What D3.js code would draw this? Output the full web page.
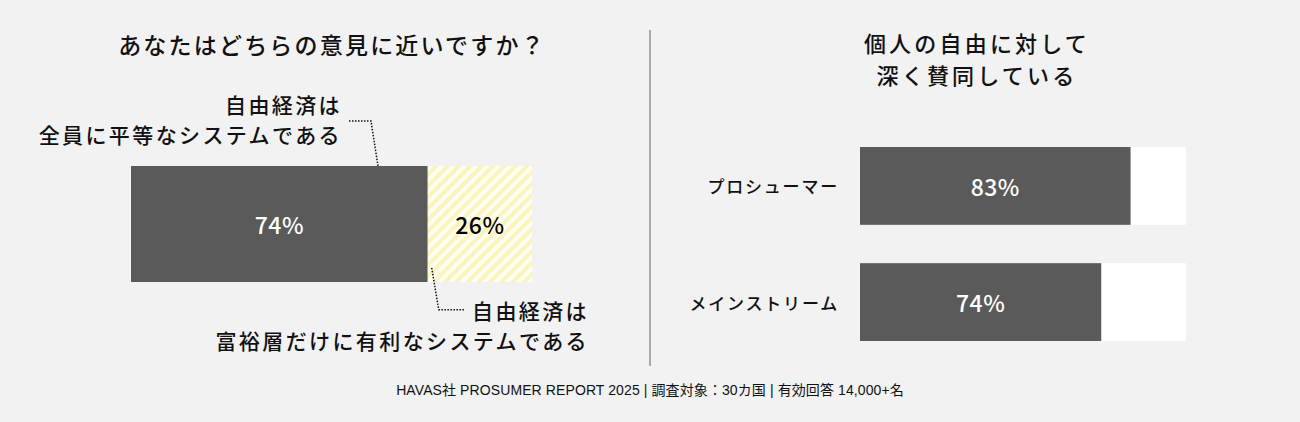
<!DOCTYPE html>
<html>
<head>
<meta charset="utf-8">
<script src="https://cdn.jsdelivr.net/npm/d3@7"></script>
<style>
  html, body { margin:0; padding:0; background:#f2f2f2; }
  svg { display:block; }
  .jp { font-family:"Noto Sans CJK JP","Noto Sans",sans-serif; fill:#111; font-weight:500; }
  .foot { font-family:"Liberation Sans","Noto Sans CJK JP",sans-serif; fill:#111; }
</style>
</head>
<body>
<svg id="chart" width="1300" height="422"></svg>
<script>
// ---- data ----
const leftTitle = "あなたはどちらの意見に近いですか？";
const splitValues = [74, 26];
const splitTop = ["自由経済は", "全員に平等なシステムである"];
const splitBottom = ["自由経済は", "富裕層だけに有利なシステムである"];

const rightTitle = ["個人の自由に対して", "深く賛同している"];
const groups = ["プロシューマー", "メインストリーム"];
const agreeValues = [83, 74];

const footerText = "HAVAS社 PROSUMER REPORT 2025 | 調査対象：30カ国 | 有効回答 14,000+名";

const dark = "#5a5a5a";

var svg = d3.select('#chart');
svg.append('rect').attr('width', 1300).attr('height', 422).attr('fill', '#f2f2f2');

// hatch for the minority share
var defs = svg.append('defs');
var pat = defs.append('pattern')
  .attr('id', 'hatch')
  .attr('patternUnits', 'userSpaceOnUse')
  .attr('width', 8).attr('height', 8)
  .attr('patternTransform', 'rotate(45)');
pat.append('rect').attr('width', 8).attr('height', 8).attr('fill', '#fffef2');
pat.append('rect').attr('width', 4).attr('height', 8).attr('fill', '#fbf4bd');

// one text per line, lines spread just enough for the cjk line box (~1.45em)
function multiline(x, cy, lines, anchor, size, spacing){
  var lh = Math.ceil(size * 1.45 * 10) / 10;
  var y0 = cy - lh * (lines.length - 1) / 2;
  svg.selectAll(null)
    .data(lines)
    .enter().append('text')
    .attr('class', 'jp')
    .attr('x', x).attr('y', (d, i) => y0 + i * lh)
    .attr('text-anchor', anchor).attr('dominant-baseline', 'central')
    .style('font-size', size + 'px').style('letter-spacing', spacing + 'px')
    .text(d => d);
  return y0;
}

//---------------left panel: split bar---------------
var xL = d3.scaleLinear().domain([0, 100]).range([131, 532]);
var barTop = 166, barH = 116;

svg.append('text').attr('class', 'jp')
  .attr('x', 332).attr('y', 44)
  .attr('text-anchor', 'middle').attr('dominant-baseline', 'central')
  .style('font-size', '23px').style('letter-spacing', '2.2px')
  .text(leftTitle);

var starts = [0, splitValues[0]];
svg.selectAll('.split')
  .data(splitValues)
  .enter().append('rect')
  .attr('class', 'split')
  .attr('x', (d, i) => xL(starts[i]))
  .attr('y', barTop)
  .attr('width', (d, i) => xL(starts[i] + d) - xL(starts[i]))
  .attr('height', barH)
  .attr('fill', (d, i) => i === 0 ? dark : 'url(#hatch)');

svg.selectAll('.splitVal')
  .data(splitValues)
  .enter().append('text')
  .attr('class', 'jp splitVal')
  .attr('x', (d, i) => xL(starts[i] + d / 2))
  .attr('y', barTop + barH / 2)
  .attr('text-anchor', 'middle').attr('dominant-baseline', 'central')
  .style('font-size', '23px').style('letter-spacing', '0.5px')
  .style('fill', (d, i) => i === 0 ? '#fff' : '#000')
  .text(d => d + '%');

// labels + dotted leaders
multiline(342, 119, splitTop, 'end', 21, 2.4);
var botY = multiline(589, 325, splitBottom, 'end', 21, 2.4);

var split = xL(splitValues[0]);
var line = d3.line();
svg.append('path')
  .attr('d', line([[349, 121], [371, 121], [378, barTop]]))
  .attr('fill', 'none').attr('stroke', '#111')
  .attr('stroke-width', 1.5).attr('stroke-dasharray', '1.5,1.5');
svg.append('path')
  .attr('d', line([[split + 4, barTop + barH - 14], [split + 11, botY], [464, botY]]))
  .attr('fill', 'none').attr('stroke', '#111')
  .attr('stroke-width', 1.5).attr('stroke-dasharray', '1.5,1.5');

// divider
svg.append('line')
  .attr('x1', 650).attr('x2', 650).attr('y1', 30).attr('y2', 366)
  .attr('stroke', '#666').attr('stroke-width', 1);

//---------------right panel: agreement bars---------------
var xR = d3.scaleLinear().domain([0, 100]).range([860, 1186]);
var yR = d3.scaleBand().domain(groups).range([147, 341]).paddingInner(0.33);

multiline(977, 58, rightTitle, 'middle', 22, 3.2);

svg.selectAll('.bgBar')
  .data(groups)
  .enter().append('rect')
  .attr('class', 'bgBar')
  .attr('x', xR(0)).attr('y', d => yR(d))
  .attr('width', xR(100) - xR(0)).attr('height', yR.bandwidth())
  .attr('fill', '#fff');

svg.selectAll('.valBar')
  .data(agreeValues)
  .enter().append('rect')
  .attr('class', 'valBar')
  .attr('x', xR(0)).attr('y', (d, i) => yR(groups[i]))
  .attr('width', d => xR(d) - xR(0)).attr('height', yR.bandwidth())
  .attr('fill', dark);

svg.selectAll('.valLab')
  .data(agreeValues)
  .enter().append('text')
  .attr('class', 'jp valLab')
  .attr('x', d => xR(d / 2)).attr('y', (d, i) => yR(groups[i]) + yR.bandwidth() / 2)
  .attr('text-anchor', 'middle').attr('dominant-baseline', 'central')
  .style('font-size', '23px').style('letter-spacing', '0.5px').style('fill', '#fff')
  .text(d => d + '%');

svg.selectAll('.catLab')
  .data(groups)
  .enter().append('text')
  .attr('class', 'jp catLab')
  .attr('x', 839).attr('y', d => yR(d) + yR.bandwidth() / 2)
  .attr('text-anchor', 'end').attr('dominant-baseline', 'central')
  .style('font-size', '17px').style('letter-spacing', '1.8px')
  .text(d => d);

// footer
svg.append('text').attr('class', 'foot')
  .attr('x', 650).attr('y', 390)
  .attr('text-anchor', 'middle').attr('dominant-baseline', 'central')
  .style('font-size', '14px').style('letter-spacing', '0.1px')
  .text(footerText);
</script>
</body>
</html>
